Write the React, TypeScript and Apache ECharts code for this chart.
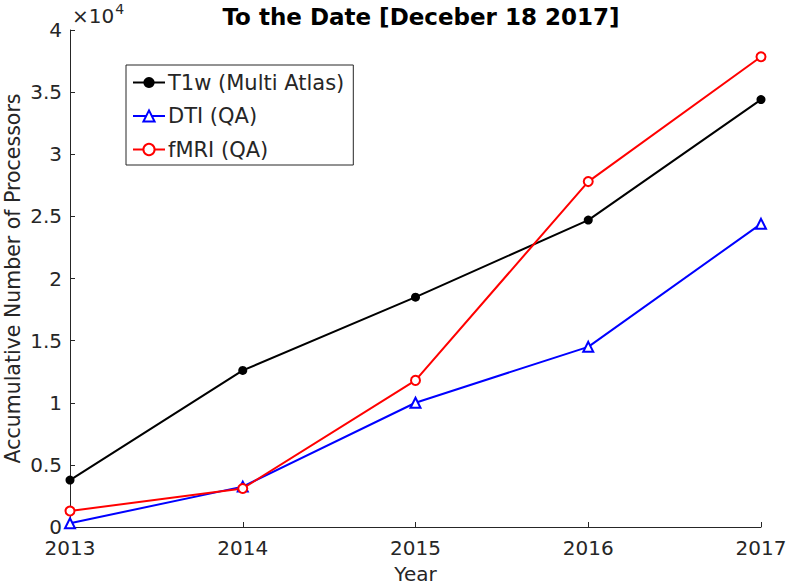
import React, { useEffect, useRef } from "react";
import * as echarts from "echarts";

const years = [2013, 2014, 2015, 2016, 2017];
const t1wValues = [3780, 12600, 18500, 24700, 34400];
const dtiValues = [300, 3250, 10000, 14500, 24400];
const fmriValues = [1290, 3100, 11800, 27800, 37850];
const seriesNames = ["T1w (Multi Atlas)", "DTI (QA)", "fMRI (QA)"];

const FONT = "DejaVu Sans";
const AX = "#262626";

export default function App() {
  const ref = useRef<HTMLDivElement>(null);
  useEffect(() => {
    const chart = echarts.init(ref.current!, null, { renderer: "svg" });
    const pairs = (vals: number[]) => years.map((y, i) => [y, vals[i]]);
    chart.setOption({
      animation: false,
      backgroundColor: "#ffffff",
      textStyle: { fontFamily: FONT },
      title: {
        text: "To the Date [Deceber 18 2017]",
        left: 416,
        textAlign: "center",
        top: 0,
        textStyle: { fontFamily: FONT, fontWeight: "bold", fontSize: 23, color: "#000" },
      },
      legend: {
        orient: "vertical",
        left: 126,
        top: 65,
        padding: [7, 9, 5, 6],
        itemWidth: 32,
        itemHeight: 14,
        itemGap: 12.5,
        borderColor: AX,
        borderWidth: 1,
        backgroundColor: "#fff",
        textStyle: { fontFamily: FONT, fontSize: 21, color: AX, lineHeight: 20, padding: [0, 0, 0, -2] },
        data: seriesNames,
      },
      grid: { left: 70, right: 27, top: 30, bottom: 59, containLabel: false, outerBoundsMode: "none" },
      xAxis: {
        type: "value",
        min: 2013,
        max: 2017,
        interval: 1,
        name: "Year",
        nameLocation: "middle",
        nameGap: 38,
        nameMoveOverlap: false,
        nameTextStyle: { fontFamily: FONT, fontSize: 20, color: AX, lineHeight: 18 },
        axisLine: { show: true, lineStyle: { color: AX, width: 1 } },
        axisTick: { show: true, inside: true, length: 5, lineStyle: { color: AX } },
        axisLabel: { fontFamily: FONT, fontSize: 20, color: AX, margin: 12, lineHeight: 18, formatter: (v: number) => String(v) },
        splitLine: { show: false },
      },
      yAxis: {
        type: "value",
        min: 0,
        max: 40000,
        interval: 5000,
        name: "Accumulative Number of Processors",
        nameLocation: "middle",
        nameGap: 47,
        nameMoveOverlap: false,
        nameTextStyle: { fontFamily: FONT, fontSize: 20.5, color: AX, lineHeight: 20 },
        axisLine: { show: true, lineStyle: { color: AX, width: 1 } },
        axisTick: { show: true, inside: true, length: 5, lineStyle: { color: AX } },
        axisLabel: { fontFamily: FONT, fontSize: 20, color: AX, margin: 8, lineHeight: 16, formatter: (v: number) => String(v / 10000) },
        splitLine: { show: false },
      },
      graphic: [
        {
          type: "text",
          left: 72,
          top: 2,
          style: {
            text: "{a|×10}{b|4}",
            rich: {
              a: { fontFamily: FONT, fontSize: 20, fill: AX, verticalAlign: "bottom", lineHeight: 24 },
              b: { fontFamily: FONT, fontSize: 14, fill: AX, verticalAlign: "top", lineHeight: 16, padding: [0, 0, 8, 1] },
            },
          },
        },
      ],
      series: [
        {
          name: seriesNames[0],
          type: "line",
          data: pairs(t1wValues),
          symbol: "circle",
          symbolSize: 9,
          itemStyle: { color: "#000000" },
          lineStyle: { color: "#000000", width: 2 },
        },
        {
          name: seriesNames[1],
          type: "line",
          data: pairs(dtiValues),
          symbol: "triangle",
          symbolSize: 10,
          itemStyle: { color: "#fff", borderColor: "#0000ff", borderWidth: 2 },
          lineStyle: { color: "#0000ff", width: 2 },
        },
        {
          name: seriesNames[2],
          type: "line",
          data: pairs(fmriValues),
          symbol: "emptyCircle",
          symbolSize: 9,
          itemStyle: { color: "#ff0000", borderColor: "#ff0000", borderWidth: 2 },
          lineStyle: { color: "#ff0000", width: 2 },
        },
      ],
    });
    return () => chart.dispose();
  }, []);
  return <div ref={ref} style={{ width: 788, height: 586, position: "absolute", left: 0, top: 0 }} />;
}
